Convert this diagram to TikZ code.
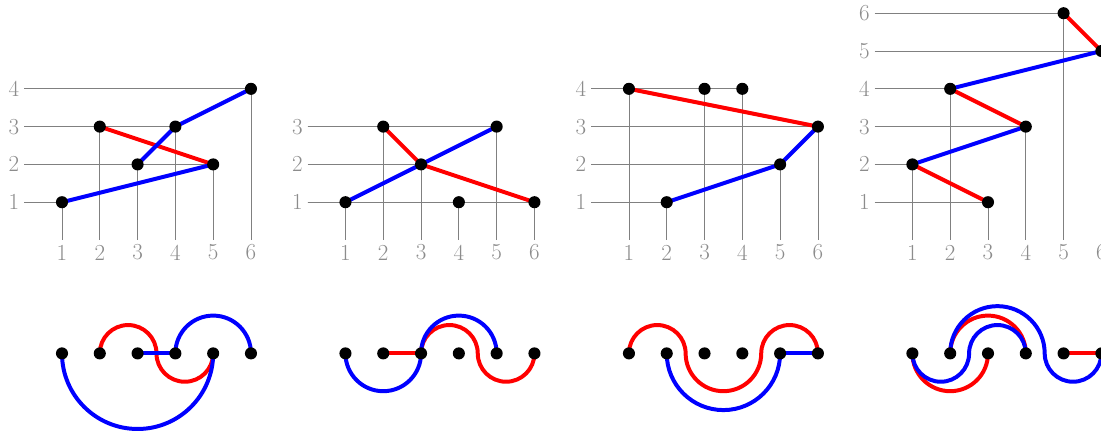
\documentclass[tikz,border=0pt]{standalone}
\usepackage{tikz}

\tikzset{
  gridline/.style={black!50, line width=0.6pt},
  lbl/.style={text=black!45, font=\LARGE, inner sep=0pt},
  strand/.style={line width=3pt},
}

\begin{document}
\begin{tikzpicture}
  \useasboundingbox (-0.64,-5.08) rectangle (28.49,6.35);

  % first panel
  \begin{scope}
    % grid
    \foreach \x/\y in {1/1,2/3,3/2,4/3,5/2,6/4} {
      \coordinate (A\x) at (\x,\y);
      \coordinate (a\x) at (\x,-3);
      \draw[gridline] (0,\y) -- (A\x) -- (\x,0);
    }
    \foreach \x in {1,...,6}
      \node[lbl] (Ax\x) at (\x,-0.33) {\x};
    \foreach \y in {1,...,4}
      \node[lbl] (Ay\y) at (-0.27,\y) {\y};

    % path
    \draw[strand, red] (A5) -- (A2);
    \draw[strand, blue] (A1) -- (A5);
    \draw[strand, blue] (A3) -- (A4) -- (A6);

    % arcs
    \draw[strand, red] (a5) arc[start angle=0, end angle=-180, radius=0.75]
      arc[start angle=0, end angle=180, radius=0.75];
    \draw[strand, blue] (a1) arc[start angle=180, end angle=360, radius=2];
    \draw[strand, blue] (a3) -- (a4);
    \draw[strand, blue] (a4) arc[start angle=180, end angle=0, radius=1];

    \foreach \x in {1,...,6} {
      \fill (A\x) circle (0.16);
      \fill (a\x) circle (0.16);
    }
  \end{scope}

  % second panel
  \begin{scope}[xshift=7.5cm]
    % grid
    \foreach \x/\y in {1/1,2/3,3/2,4/1,5/3,6/1} {
      \coordinate (B\x) at (\x,\y);
      \coordinate (b\x) at (\x,-3);
      \draw[gridline] (0,\y) -- (B\x) -- (\x,0);
    }
    \foreach \x in {1,...,6}
      \node[lbl] (Bx\x) at (\x,-0.33) {\x};
    \foreach \y in {1,...,3}
      \node[lbl] (By\y) at (-0.27,\y) {\y};

    % path
    \draw[strand, red] (B2) -- (B3) -- (B6);
    \draw[strand, blue] (B1) -- (B3) -- (B5);

    % arcs
    \draw[strand, red] (b2) -- (b3);
    \draw[strand, red] (b3) arc[start angle=180, end angle=0, radius=0.75]
      arc[start angle=180, end angle=360, radius=0.75];
    \draw[strand, blue] (b1) arc[start angle=180, end angle=360, radius=1]
      arc[start angle=180, end angle=0, radius=1];

    \foreach \x in {1,...,6} {
      \fill (B\x) circle (0.16);
      \fill (b\x) circle (0.16);
    }
  \end{scope}

  % third panel
  \begin{scope}[xshift=15cm]
    % grid
    \foreach \x/\y in {1/4,2/1,3/4,4/4,5/2,6/3} {
      \coordinate (C\x) at (\x,\y);
      \coordinate (c\x) at (\x,-3);
      \draw[gridline] (0,\y) -- (C\x) -- (\x,0);
    }
    \foreach \x in {1,...,6}
      \node[lbl] (Cx\x) at (\x,-0.33) {\x};
    \foreach \y in {1,...,4}
      \node[lbl] (Cy\y) at (-0.27,\y) {\y};

    % path
    \draw[strand, red] (C1) -- (C6);
    \draw[strand, blue] (C2) -- (C5) -- (C6);

    % arcs
    \draw[strand, red] (c1) arc[start angle=180, end angle=0, radius=0.75]
      arc[start angle=180, end angle=360, radius=1]
      arc[start angle=180, end angle=0, radius=0.75];
    \draw[strand, blue] (c2) arc[start angle=180, end angle=360, radius=1.5];
    \draw[strand, blue] (c5) -- (c6);

    \foreach \x in {1,...,6} {
      \fill (C\x) circle (0.16);
      \fill (c\x) circle (0.16);
    }
  \end{scope}

  % fourth panel, cut off at the right
  \begin{scope}[xshift=22.5cm]
    % grid
    \foreach \x/\y in {1/2,2/4,3/1,4/3,5/6,6/5} {
      \coordinate (D\x) at (\x,\y);
      \coordinate (d\x) at (\x,-3);
      \draw[gridline] (0,\y) -- (D\x) -- (\x,0);
    }
    \foreach \x in {1,...,6}
      \node[lbl] (Dx\x) at (\x,-0.33) {\x};
    \foreach \y in {1,...,6}
      \node[lbl] (Dy\y) at (-0.27,\y) {\y};

    % path
    \draw[strand, red] (D3) -- (D1);
    \draw[strand, red] (D4) -- (D2);
    \draw[strand, red] (D6) -- (D5);
    \draw[strand, blue] (D1) -- (D4);
    \draw[strand, blue] (D2) -- (D6);

    % arcs
    \draw[strand, red] (d3) arc[start angle=0, end angle=-180, radius=1];
    \draw[strand, red] (d4) arc[start angle=0, end angle=180, radius=1];
    \draw[strand, red] (d5) -- (d6);
    \draw[strand, blue] (d1) arc[start angle=180, end angle=360, radius=0.75]
      arc[start angle=180, end angle=0, radius=0.75];
    \draw[strand, blue] (d2) arc[start angle=180, end angle=0, radius=1.25]
      arc[start angle=180, end angle=360, radius=0.75];

    \foreach \x in {1,...,6} {
      \fill (D\x) circle (0.16);
      \fill (d\x) circle (0.16);
    }
  \end{scope}
\end{tikzpicture}
\end{document}
